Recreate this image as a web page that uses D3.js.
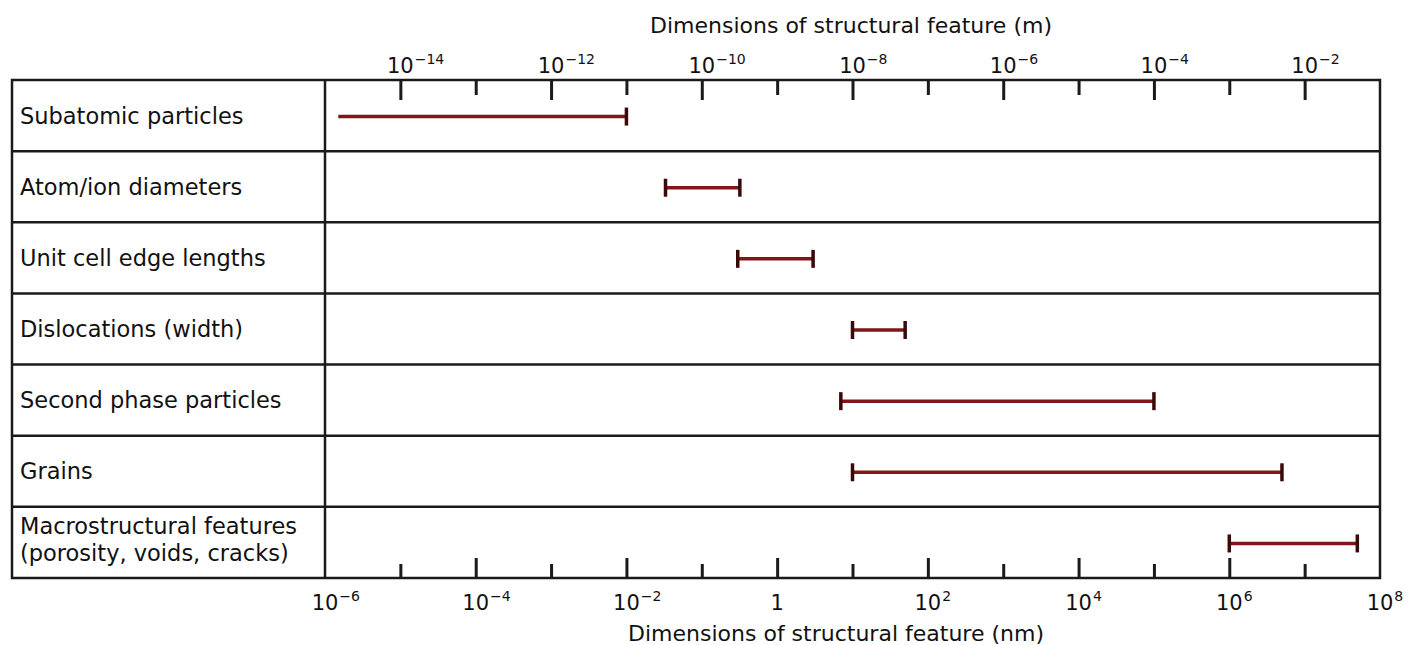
<!DOCTYPE html>
<html><head><meta charset="utf-8">
<script src="https://cdn.jsdelivr.net/npm/d3@7"></script>
<style>
html,body{margin:0;padding:0;background:#fff;}
svg text{font-family:"DejaVu Sans",sans-serif;fill:#111;}
</style></head>
<body><svg id="c" width="1418" height="645"></svg>
<script>
const categories = [
  ["Subatomic particles"],
  ["Atom/ion diameters"],
  ["Unit cell edge lengths"],
  ["Dislocations (width)"],
  ["Second phase particles"],
  ["Grains"],
  ["Macrostructural features", "(porosity, voids, cracks)"]
];
const rangeMin = [1.5e-6, 0.033, 0.3, 10, 7, 10, 1e6];   // nm
const rangeMax = [0.01, 0.32, 3, 50, 1e5, 5e6, 5e7];     // nm
const leftCap  = [false, true, true, true, true, true, true];
const bottomMajorExp = [-6, -4, -2, 0, 2, 4, 6, 8];       // nm exponents
const topMajorExpM = [-14, -12, -10, -8, -6, -4, -2];     // m exponents
const allDecadesNm = d3.range(-6, 9);
const topTitle = "Dimensions of structural feature (m)";
const bottomTitle = "Dimensions of structural feature (nm)";

const svg = d3.select("#c");
const boxL = 12, boxR = 1380, boxT = 80, boxB = 578, divX = 325;
const x = d3.scaleLog().domain([1e-6, 1e8]).range([divX, boxR]);
const y = d3.scaleBand().domain(d3.range(categories.length)).range([boxT, boxB]).padding(0);
const ink = "#1a1a1a";
const barCol = "#80161a";

// rows
svg.selectAll("line.row").data(d3.range(1, categories.length)).join("line")
  .attr("x1", boxL).attr("x2", boxR)
  .attr("y1", d => y(d)).attr("y2", d => y(d))
  .attr("stroke", ink).attr("stroke-width", 2.5);

// outer box + divider
svg.append("rect").attr("x", boxL).attr("y", boxT).attr("width", boxR - boxL).attr("height", boxB - boxT)
  .attr("fill", "none").attr("stroke", ink).attr("stroke-width", 2.5);
svg.append("line").attr("x1", divX).attr("x2", divX).attr("y1", boxT).attr("y2", boxB)
  .attr("stroke", ink).attr("stroke-width", 2.5);

// axes
function styleAxis(g){ g.select(".domain").remove(); g.selectAll(".tick line").attr("stroke", ink).attr("stroke-width", 3); }
svg.append("g").attr("transform", `translate(0,${boxB})`)
  .call(d3.axisTop(x).tickValues(allDecadesNm.filter(e => !bottomMajorExp.includes(e)).map(e => Math.pow(10, e))).tickSize(14).tickFormat(""))
  .call(styleAxis);
svg.append("g").attr("transform", `translate(0,${boxB})`)
  .call(d3.axisTop(x).tickValues(bottomMajorExp.filter(e => e > -6 && e < 8).map(e => Math.pow(10, e))).tickSize(20).tickFormat(""))
  .call(styleAxis);
const topMajorNmExp = topMajorExpM.map(e => e + 9);
svg.append("g").attr("transform", `translate(0,${boxT})`)
  .call(d3.axisBottom(x).tickValues(allDecadesNm.filter(e => e > -6 && e < 8 && !topMajorNmExp.includes(e)).map(e => Math.pow(10, e))).tickSize(15).tickFormat(""))
  .call(styleAxis);
svg.append("g").attr("transform", `translate(0,${boxT})`)
  .call(d3.axisBottom(x).tickValues(topMajorNmExp.map(e => Math.pow(10, e))).tickSize(20).tickFormat(""))
  .call(styleAxis);

// tick labels
function powerLabel(px, baseY, exp){
  const g = svg.append("g").attr("transform", `translate(${px},${baseY})`);
  if (exp === 0) { g.append("text").attr("text-anchor", "middle").attr("font-size", 21).text("1"); return; }
  const t = g.append("text").attr("text-anchor", "middle").attr("font-size", 21).text("10");
  const w = t.node().getComputedTextLength();
  const sup = String(exp).replace("-", "\u2212");
  g.append("text").attr("x", w / 2 + 1).attr("y", -9).attr("font-size", 14).text(sup);
}
bottomMajorExp.forEach(e => powerLabel(x(Math.pow(10, e)), 610, e));
topMajorExpM.forEach(e => powerLabel(x(Math.pow(10, e + 9)), 73, e));

// titles
svg.append("text").attr("x", 851).attr("y", 33).attr("text-anchor", "middle").attr("font-size", 22).text(topTitle);
svg.append("text").attr("x", 836).attr("y", 641).attr("text-anchor", "middle").attr("font-size", 22).text(bottomTitle);

// row labels
categories.forEach((lines, i) => {
  const cy = y(i) + y.bandwidth() / 2;
  const t = svg.append("text").attr("x", 20).attr("font-size", 22.5);
  if (lines.length === 1) t.attr("y", cy + 8).text(lines[0]);
  else lines.forEach((s, k) => t.append("tspan").attr("x", 20).attr("y", cy - 8 + k * 27).text(s));
});

// bars
const bars = svg.append("g");
categories.forEach((c, i) => {
  const cy = y(i) + y.bandwidth() / 2 + 1;
  const x1 = x(rangeMin[i]), x2 = x(rangeMax[i]);
  bars.append("line").attr("x1", x1).attr("x2", x2).attr("y1", cy).attr("y2", cy)
    .attr("stroke", barCol).attr("stroke-width", 3.5);
  const caps = leftCap[i] ? [x1, x2] : [x2];
  caps.forEach(cx => bars.append("line").attr("x1", cx).attr("x2", cx).attr("y1", cy - 9).attr("y2", cy + 9)
    .attr("stroke", "#3a0a0b").attr("stroke-width", 3.5));
});
</script></body></html>
